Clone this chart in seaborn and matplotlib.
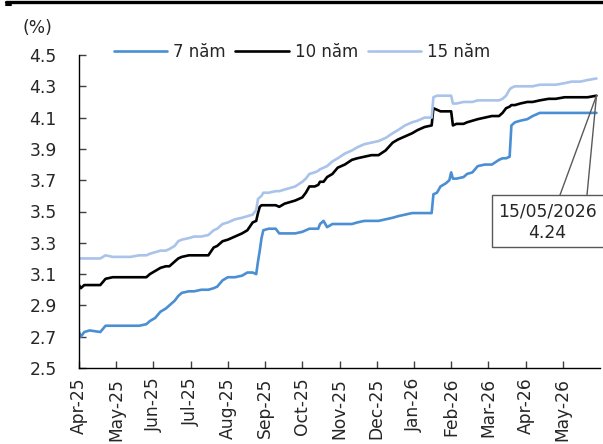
import numpy as np
import pandas as pd
import matplotlib
matplotlib.use("Agg")
import matplotlib.pyplot as plt
from matplotlib.lines import Line2D
from matplotlib.patches import Rectangle
import seaborn as sns

# trading-session index of each observation
session = [0, 1, 3, 6, 12, 15, 19, 23, 29, 34, 38, 40, 43, 46, 49, 51, 54, 56, 58, 62,
           65, 69, 73, 76, 78, 81, 84, 88, 92, 95, 98, 100, 101, 102, 103, 104, 107, 111, 113, 116,
           119, 122, 126, 128, 130, 133, 135, 136, 138, 140, 143, 146, 150, 154, 157, 161, 165, 169, 173, 177,
           180, 184, 188, 191, 195, 199, 200, 202, 204, 207, 209, 210, 211, 213, 217, 219, 222, 225, 229, 233,
           237, 239, 241, 243, 244, 246, 249, 253, 256, 260, 265, 269, 274, 278, 283, 287, 292]

y7 = [2.73, 2.70, 2.73, 2.74, 2.73, 2.77, 2.77, 2.77, 2.77, 2.77, 2.78, 2.80, 2.82, 2.86, 2.88, 2.90, 2.93, 2.96, 2.98, 2.99,
      2.99, 3.00, 3.00, 3.01, 3.02, 3.06, 3.08, 3.08, 3.09, 3.11, 3.11, 3.10, 3.18, 3.25, 3.33, 3.38, 3.39, 3.39, 3.36, 3.36,
      3.36, 3.36, 3.37, 3.38, 3.39, 3.39, 3.39, 3.42, 3.44, 3.40, 3.42, 3.42, 3.42, 3.42, 3.43, 3.44, 3.44, 3.44, 3.45, 3.46,
      3.47, 3.48, 3.49, 3.49, 3.49, 3.49, 3.61, 3.62, 3.66, 3.68, 3.70, 3.75, 3.71, 3.71, 3.72, 3.74, 3.75, 3.79, 3.80, 3.80,
      3.83, 3.84, 3.84, 3.85, 4.05, 4.07, 4.08, 4.09, 4.11, 4.13, 4.13, 4.13, 4.13, 4.13, 4.13, 4.13, 4.13]

y10 = [3.03, 3.01, 3.03, 3.03, 3.03, 3.07, 3.08, 3.08, 3.08, 3.08, 3.08, 3.10, 3.12, 3.14, 3.15, 3.15, 3.18, 3.20, 3.21, 3.22,
       3.22, 3.22, 3.22, 3.27, 3.28, 3.31, 3.32, 3.34, 3.36, 3.38, 3.43, 3.44, 3.49, 3.53, 3.54, 3.54, 3.54, 3.54, 3.53, 3.55,
       3.56, 3.57, 3.59, 3.62, 3.66, 3.66, 3.67, 3.69, 3.69, 3.72, 3.74, 3.78, 3.80, 3.83, 3.84, 3.85, 3.86, 3.86, 3.89, 3.94,
       3.96, 3.98, 4.00, 4.02, 4.04, 4.05, 4.16, 4.15, 4.14, 4.14, 4.14, 4.14, 4.05, 4.06, 4.06, 4.07, 4.08, 4.09, 4.10, 4.11,
       4.11, 4.13, 4.16, 4.17, 4.18, 4.18, 4.19, 4.20, 4.20, 4.21, 4.22, 4.22, 4.23, 4.23, 4.23, 4.23, 4.24]

y15 = [3.20, 3.20, 3.20, 3.20, 3.20, 3.22, 3.21, 3.21, 3.21, 3.22, 3.22, 3.23, 3.24, 3.25, 3.25, 3.26, 3.28, 3.31, 3.32, 3.33,
       3.34, 3.34, 3.35, 3.38, 3.39, 3.42, 3.43, 3.45, 3.46, 3.47, 3.48, 3.51, 3.58, 3.59, 3.60, 3.62, 3.62, 3.63, 3.63, 3.64,
       3.65, 3.66, 3.69, 3.71, 3.74, 3.75, 3.76, 3.77, 3.78, 3.79, 3.82, 3.84, 3.87, 3.89, 3.91, 3.93, 3.94, 3.95, 3.97, 4.00,
       4.02, 4.05, 4.07, 4.08, 4.10, 4.10, 4.23, 4.24, 4.24, 4.24, 4.24, 4.24, 4.19, 4.19, 4.20, 4.20, 4.20, 4.21, 4.21, 4.21,
       4.21, 4.22, 4.24, 4.28, 4.29, 4.30, 4.30, 4.30, 4.30, 4.31, 4.31, 4.31, 4.32, 4.33, 4.33, 4.34, 4.35]

series_names = ["7 năm", "10 năm", "15 năm"]
series_colors = ["#4A8ED3", "#000000", "#A9C3EA"]
tick_labels = ["Apr-25", "May-25", "Jun-25", "Jul-25", "Aug-25", "Sep-25", "Oct-25",
               "Nov-25", "Dec-25", "Jan-26", "Feb-26", "Mar-26", "Apr-26", "May-26"]
tick_step = 21
annot_date = "15/05/2026"
annot_value = 4.24

df = pd.DataFrame({
    "session": session * 3,
    "value": y7 + y10 + y15,
    "series": [series_names[0]] * len(session) + [series_names[1]] * len(session) + [series_names[2]] * len(session),
})

sns.set_style("white")
plt.rcParams["font.family"] = ["DejaVu Sans"]
FS = 12.3

fig = plt.figure(figsize=(6.03, 4.44), dpi=100)
W, H = 603, 444
ax = fig.add_axes([79 / W, (H - 368) / H, (600 - 79) / W, 313 / H])

sns.lineplot(data=df, x="session", y="value", hue="series", hue_order=series_names,
             palette=dict(zip(series_names, series_colors)), linewidth=1.9, ax=ax, legend=False)

ax.set_xlim(0, 294)
ax.set_ylim(2.5, 4.5)
ax.set_yticks(np.arange(2.5, 4.51, 0.2))
ax.set_yticklabels([f"{v:.1f}" for v in np.arange(2.5, 4.51, 0.2)], fontsize=FS)
ax.set_xticks([i * tick_step for i in range(len(tick_labels))])
ax.set_xticklabels(tick_labels, rotation=90, fontsize=FS)
ax.set_xlabel("")
ax.set_ylabel("")
ax.tick_params(axis="both", direction="in", length=5, width=1, color="#404040",
               bottom=True, left=True)
ax.tick_params(axis="x", pad=7)
ax.tick_params(axis="y", pad=16)
for s in ["top", "right"]:
    ax.spines[s].set_visible(False)
for s in ["left", "bottom"]:
    ax.spines[s].set_color("black")
    ax.spines[s].set_linewidth(1.0)

# legend
handles = [Line2D([], [], color=c, lw=1.9) for c in series_colors]
fig.legend(handles, series_names, loc="center", bbox_to_anchor=(302 / W, 1 - 52 / H), ncol=3,
           frameon=False, fontsize=12, handlelength=3.2, handletextpad=0.35, columnspacing=0.6)

# (%) label
fig.text(22 / W, 1 - 28 / H, "(%)", fontsize=FS, ha="left", va="center")

# top border line
fig.add_artist(Line2D([6 / W, 1], [1 - 2.5 / H] * 2, color="black", lw=2.4))
fig.add_artist(Line2D([6 / W, 11 / W], [1 - 5 / H] * 2, color="black", lw=1.5))

# callout
last_x = session[-1]
for bx in (560, 587):
    ax.annotate("", xy=(last_x, annot_value), xycoords="data", xytext=(bx, H - 195),
                textcoords="figure pixels",
                arrowprops=dict(arrowstyle="-", color="#595959", lw=1.0, shrinkA=0, shrinkB=0),
                annotation_clip=False)
fig.add_artist(Rectangle((492 / W, (H - 247) / H), 112 / W, 52 / H, transform=fig.transFigure,
                         facecolor="white", edgecolor="#595959", lw=1.0))
fig.text(547 / W, 1 - 211 / H, annot_date, fontsize=FS, ha="center", va="center")
fig.text(547 / W, 1 - 233 / H, f"{annot_value:.2f}", fontsize=FS, ha="center", va="center")

fig.savefig("out.png", dpi=100)
